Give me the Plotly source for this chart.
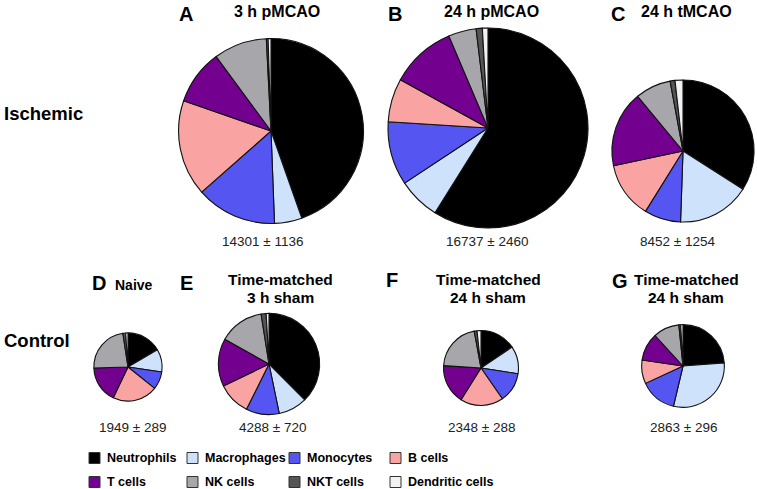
import math
import plotly.graph_objects as go

# ---------------- data ----------------
cell_types = ["Neutrophils", "Macrophages", "Monocytes", "B cells",
              "T cells", "NK cells", "NKT cells", "Dendritic cells"]
panel_letters = ["A", "B", "C", "D", "E", "F", "G"]
panel_titles = ["3 h pMCAO", "24 h pMCAO", "24 h tMCAO", "Naive",
                "Time-matched<br>3 h sham", "Time-matched<br>24 h sham",
                "Time-matched<br>24 h sham"]
mean_counts = [14301, 16737, 8452, 1949, 4288, 2348, 2863]
sem_counts = [1136, 2460, 1254, 289, 720, 288, 296]
row_labels = ["Ischemic", "Control"]

# percentage of each cell type (order of cell_types)
pct_A = [44.6, 4.8, 14.1, 16.8, 9.6, 9.3, 0.3, 0.5]
pct_B = [58.9, 6.8, 10.3, 7.0, 10.6, 4.5, 1.0, 0.9]
pct_C = [34.0, 16.5, 8.3, 12.8, 17.3, 8.1, 1.1, 1.8]
pct_D = [16.5, 10.8, 8.4, 21.3, 17.4, 23.0, 1.3, 1.1]
pct_E = [37.6, 9.2, 10.6, 10.5, 15.3, 14.4, 1.6, 0.9]
pct_F = [15.6, 11.9, 12.9, 18.6, 17.1, 21.1, 1.2, 1.7]
pct_G = [23.8, 29.9, 14.4, 9.2, 10.9, 10.2, 0.7, 0.9]
panel_pcts = [pct_A, pct_B, pct_C, pct_D, pct_E, pct_F, pct_G]

# ---------------- styling / layout ----------------
colors = ["#000000", "#cfe2fb", "#5555f2", "#f9a3a3",
          "#73008f", "#a6a6ab", "#555555", "#f2f2f2"]
W, H = 757, 489
FONT = "Liberation Sans, Arial, sans-serif"
R_MAX = 100  # pixel radius of the largest pie (area proportional to count)
pie_centers = [(271, 131), (488, 128), (683, 151),
               (128, 367), (269, 364), (481, 368), (683, 366)]
letter_pos = [(186, 14), (395, 14), (618, 14),
              (99, 283), (186, 283), (392, 280), (620, 281)]
title_pos = [(277, 12), (491, 12), (686, 12),
             (134, 285), (280, 279), (488, 279), (686, 279)]
title_size = [16, 16, 16, 14, 15.5, 15.5, 15.5]
count_pos = [(262, 242), (487, 242), (677, 242),
             (132, 427), (272, 427), (481, 427), (683, 427)]
row_label_pos = [(2, 113), (2, 340)]
legend_cols = [89, 187, 289, 390]
legend_rows = [458, 482]
SQ = 11


def px(x):
    return x / W


def py(y):
    return 1 - y / H


fig = go.Figure()
max_count = max(mean_counts)
for i, pcts in enumerate(panel_pcts):
    cx, cy = pie_centers[i]
    r = R_MAX * math.sqrt(mean_counts[i] / max_count)
    fig.add_trace(go.Pie(
        labels=cell_types, values=pcts, sort=False, direction="clockwise",
        rotation=0, textinfo="none", showlegend=False,
        marker=dict(colors=colors, line=dict(color="#111111", width=1.1)),
        domain=dict(x=[px(cx - r), px(cx + r)], y=[py(cy + r), py(cy - r)]),
        name=panel_letters[i],
    ))

ann = []
for i in range(len(panel_letters)):
    lx, ly = letter_pos[i]
    ann.append(dict(text="<b>%s</b>" % panel_letters[i], x=px(lx), y=py(ly),
                    font=dict(size=20, family=FONT, color="#000")))
    lines = panel_titles[i].split("<br>")
    tx, ty = title_pos[i]
    for k, line in enumerate(lines):
        ann.append(dict(text="<b>%s</b>" % line, x=px(tx), y=py(ty + 18 * k),
                        font=dict(size=title_size[i], family=FONT, color="#000")))
    cx, cy = count_pos[i]
    ann.append(dict(text="%d \u00b1 %d" % (mean_counts[i], sem_counts[i]),
                    x=px(cx), y=py(cy),
                    font=dict(size=13.5, family=FONT, color="#222")))
for j, lab in enumerate(row_labels):
    rx, ry = row_label_pos[j]
    ann.append(dict(text="<b>%s</b>" % lab, x=px(rx), y=py(ry), xanchor="left",
                    font=dict(size=18.5, family=FONT, color="#000")))

shapes = []
for k, lab in enumerate(cell_types):
    col = k % 4
    row = k // 4
    sx = legend_cols[col]
    sy = legend_rows[row]
    shapes.append(dict(type="rect", xref="paper", yref="paper",
                       x0=px(sx), x1=px(sx + SQ), y0=py(sy + SQ / 2), y1=py(sy - SQ / 2),
                       fillcolor=colors[k], line=dict(color="#333", width=1)))
    ann.append(dict(text="<b>%s</b>" % lab, x=px(sx + SQ + 5), y=py(sy),
                    xanchor="left",
                    font=dict(size=12.5, family=FONT, color="#000")))

for a in ann:
    a.setdefault("xanchor", "center")
    a.update(xref="paper", yref="paper", yanchor="middle", showarrow=False)

fig.update_layout(width=W, height=H, margin=dict(l=0, r=0, t=0, b=0),
                  paper_bgcolor="white", plot_bgcolor="white",
                  annotations=ann, shapes=shapes)
fig.write_html("out.html", config={"displayModeBar": False},
               post_script="document.body.style.margin='0';"
                           "document.body.style.overflow='hidden';")
